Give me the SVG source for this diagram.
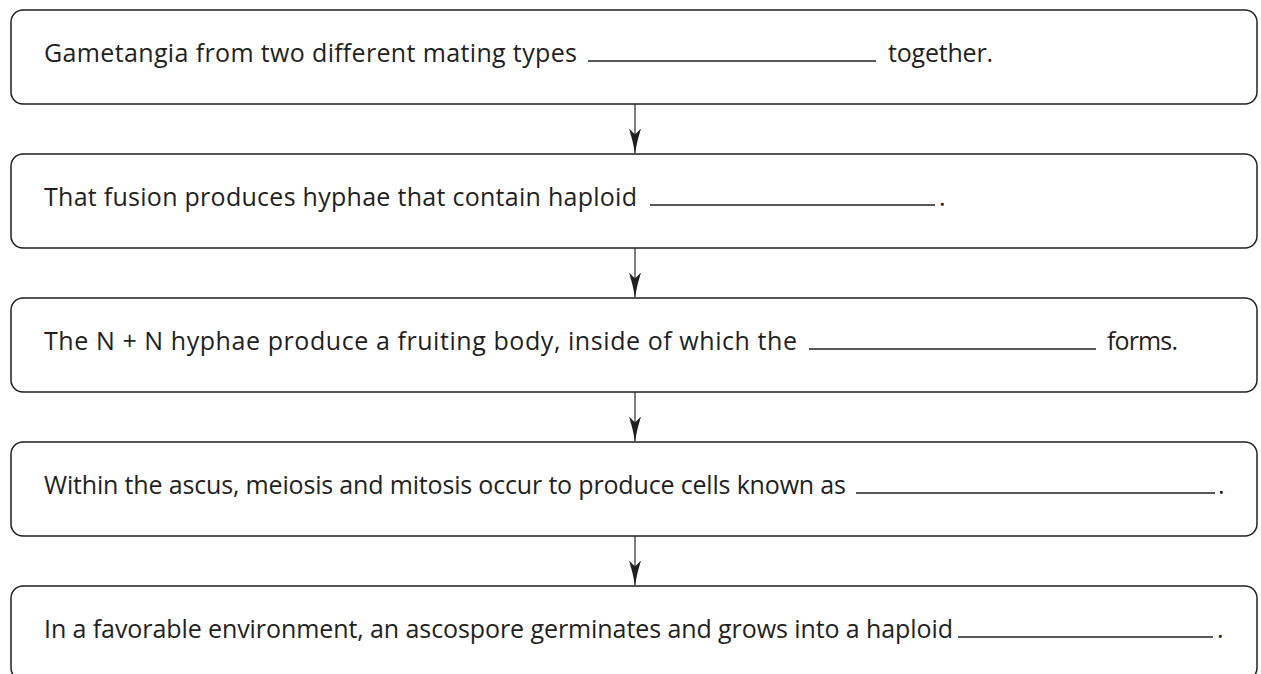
<svg xmlns="http://www.w3.org/2000/svg" width="1261" height="674" viewBox="0 0 1261 674">
  <style>
    .box { fill: #ffffff; stroke: #231f20; stroke-width: 1.5; }
    .txt { font-family: "Open Sans", "Noto Sans", "Liberation Sans", sans-serif; font-size: 25px; fill: #231f20; }
    .blank { stroke: #231f20; stroke-width: 1.3; }
    .conn { stroke: #555555; stroke-width: 1.5; fill: none; }
  </style>
  <defs>
    <marker id="arrow" viewBox="0 0 26 12" refX="25" refY="6" markerWidth="26" markerHeight="12" markerUnits="userSpaceOnUse" orient="auto">
      <path d="M25,6 Q13,4.2 0,0 L6,6 L0,12 Q13,7.8 25,6 Z" fill="#231f20"/>
    </marker>
  </defs>
  <rect x="0" y="0" width="1261" height="674" fill="#ffffff"/>

  <g id="connectors">
    <line class="conn" x1="635" y1="104" x2="635" y2="153.5" marker-end="url(#arrow)"/>
    <line class="conn" x1="635" y1="248" x2="635" y2="297.5" marker-end="url(#arrow)"/>
    <line class="conn" x1="635" y1="392" x2="635" y2="441.5" marker-end="url(#arrow)"/>
    <line class="conn" x1="635" y1="536" x2="635" y2="585.5" marker-end="url(#arrow)"/>
  </g>

  <g id="node1">
    <rect class="box" x="11" y="10" width="1246" height="94" rx="12" ry="12"/>
    <text class="txt" x="44" y="62" textLength="533">Gametangia from two different mating types</text>
    <line class="blank" x1="588" y1="61" x2="876" y2="61"/>
    <text class="txt" x="888" y="62" textLength="105">together.</text>
  </g>

  <g id="node2">
    <rect class="box" x="11" y="154" width="1246" height="94" rx="12" ry="12"/>
    <text class="txt" x="44" y="206" textLength="593">That fusion produces hyphae that contain haploid</text>
    <line class="blank" x1="650" y1="205" x2="935" y2="205"/>
    <text class="txt" x="939" y="206">.</text>
  </g>

  <g id="node3">
    <rect class="box" x="11" y="298" width="1246" height="94" rx="12" ry="12"/>
    <text class="txt" x="44" y="350" textLength="753">The N + N hyphae produce a fruiting body, inside of which the</text>
    <line class="blank" x1="809" y1="349" x2="1096" y2="349"/>
    <text class="txt" x="1107" y="350" textLength="71">forms.</text>
  </g>

  <g id="node4">
    <rect class="box" x="11" y="442" width="1246" height="94" rx="12" ry="12"/>
    <text class="txt" x="44" y="494" textLength="802">Within the ascus, meiosis and mitosis occur to produce cells known as</text>
    <line class="blank" x1="856" y1="493" x2="1215" y2="493"/>
    <text class="txt" x="1218" y="494">.</text>
  </g>

  <g id="node5">
    <rect class="box" x="11" y="586" width="1246" height="94" rx="12" ry="12"/>
    <text class="txt" x="44" y="638" textLength="909">In a favorable environment, an ascospore germinates and grows into a haploid</text>
    <line class="blank" x1="958" y1="637" x2="1213" y2="637"/>
    <text class="txt" x="1217" y="638">.</text>
  </g>
</svg>
